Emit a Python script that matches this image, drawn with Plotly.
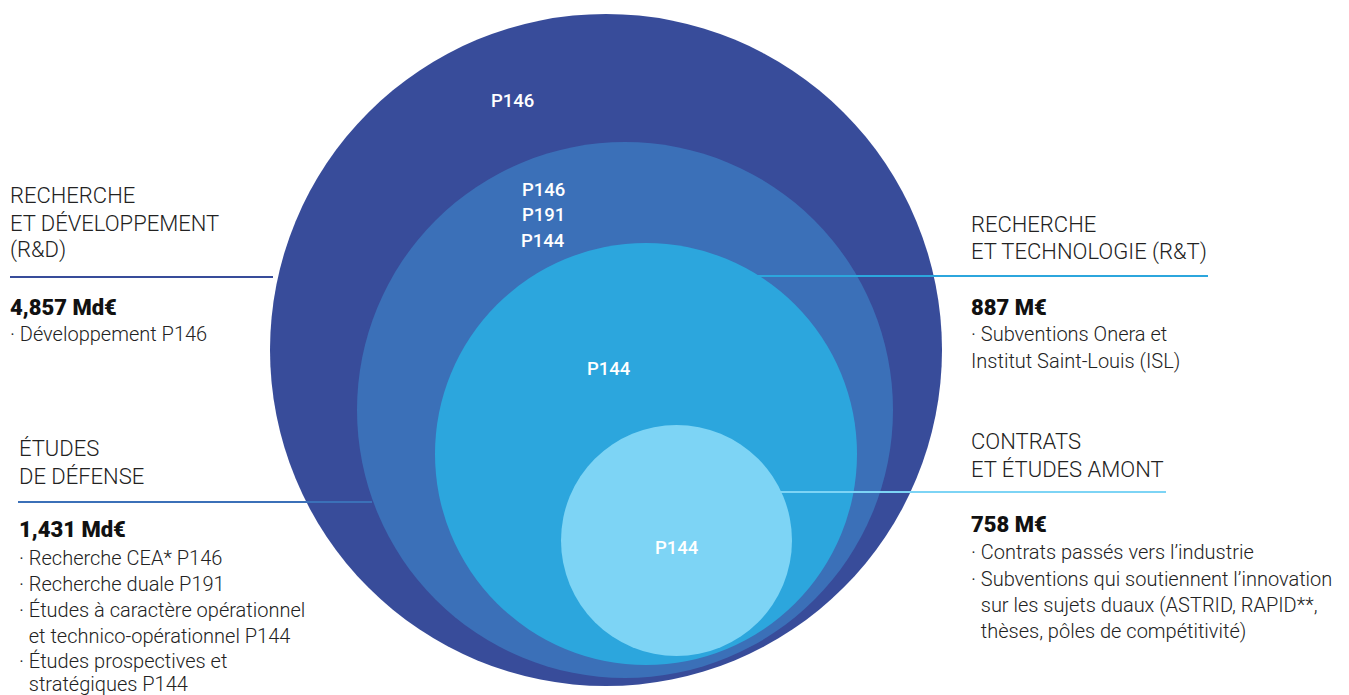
import plotly.graph_objects as go

W, H = 1349, 695
OFF = 8  # page body margin offset

# ---- data ----
circle_labels = [["P146"], ["P146", "P191", "P144"], ["P144"], ["P144"]]
circle_colors = ["#384C9A", "#3B70B8", "#2CA6DD", "#7DD4F5"]

block_titles = [
    ["RECHERCHE", "ET DÉVELOPPEMENT", "(R&D)"],
    ["ÉTUDES", "DE DÉFENSE"],
    ["RECHERCHE", "ET TECHNOLOGIE (R&T)"],
    ["CONTRATS", "ET ÉTUDES AMONT"],
]
block_amounts = ["4,857 Md€", "1,431 Md€", "887 M€", "758 M€"]
block_items = [
    ["· Développement P146"],
    ["· Recherche CEA* P146", "· Recherche duale P191",
     "· Études à caractère opérationnel", "  et technico-opérationnel P144",
     "· Études prospectives et", "  stratégiques P144"],
    ["· Subventions Onera et", "Institut Saint-Louis (ISL)"],
    ["· Contrats passés vers l’industrie",
     "· Subventions qui soutiennent l’innovation",
     "  sur les sujets duaux (ASTRID, RAPID**,",
     "  thèses, pôles de compétitivité)"],
]

# ---- layout geometry (pixels) ----
circles = [  # cx, cy, r
    (606, 350, 336),
    (625, 410, 268),
    (646, 454, 211),
    (676.5, 540.5, 115.5),
]
label_pos = [(512, [101]), (543, [190, 215, 241]), (609, [369]), (677, [548])]

blocks = [
    dict(x=8, title_y=[194, 222, 249], line=(10, 273, 277, "#384C9A"),
         amt_y=306, item_y=[333]),
    dict(x=17, title_y=[447, 475], line=(18, 372, 502, "#3B70B8"),
         amt_y=528, item_y=[557, 583, 609, 635, 660, 683]),
    dict(x=969, title_y=[223, 251], line=(753, 1208, 276, "#2CA6DD"),
         amt_y=306, item_y=[333, 360]),
    dict(x=969, title_y=[440, 468], line=(780, 1166, 492, "#7DD4F5"),
         amt_y=523, item_y=[551, 578, 604, 630]),
]

fig = go.Figure()
fig.add_trace(go.Scatter(x=[OFF, W], y=[OFF, H], mode="markers",
                         marker=dict(opacity=0), hoverinfo="skip", showlegend=False))

shapes = []
for (cx, cy, r), col in zip(circles, circle_colors):
    shapes.append(dict(type="circle", xref="x", yref="y",
                       x0=cx - r, x1=cx + r, y0=cy - r, y1=cy + r,
                       fillcolor=col, line=dict(width=0), layer="below"))
for b in blocks:
    x0, x1, y, col = b["line"]
    shapes.append(dict(type="line", xref="x", yref="y", x0=x0, x1=x1, y0=y, y1=y,
                       line=dict(color=col, width=2), layer="above"))

ann = []
FONT = "Roboto"
for labels, (lx, ys) in zip(circle_labels, label_pos):
    for t, y in zip(labels, ys):
        ann.append(dict(x=lx, y=y, xref="x", yref="y", text=t, showarrow=False,
                        xanchor="center", yanchor="middle",
                        font=dict(family=FONT, size=18.5, color="white", weight=500)))

for b, titles, amt, items in zip(blocks, block_titles, block_amounts, block_items):
    for t, y in zip(titles, b["title_y"]):
        ann.append(dict(x=b["x"], y=y + 1, xref="x", yref="y", text=t, showarrow=False,
                        xanchor="left", yanchor="middle",
                        font=dict(family=FONT, size=22, color="#222222", weight=300)))
    ann.append(dict(x=b["x"], y=b["amt_y"] + 1, xref="x", yref="y", text=amt, showarrow=False,
                    xanchor="left", yanchor="middle",
                    font=dict(family=FONT, size=22, color="#111111", weight=900)))
    for t, y in zip(items, b["item_y"]):
        ann.append(dict(x=b["x"], y=y + 1, xref="x", yref="y", text=t.replace("  ", "&nbsp;&nbsp;"),
                        showarrow=False, xanchor="left", yanchor="middle",
                        font=dict(family=FONT, size=20, color="#222222", weight=300)))

fig.update_layout(
    width=W, height=H, margin=dict(l=0, r=0, t=0, b=0),
    paper_bgcolor="white", plot_bgcolor="white",
    xaxis=dict(range=[OFF, W + OFF], visible=False, fixedrange=True),
    yaxis=dict(range=[H + OFF, OFF], visible=False, fixedrange=True),
    shapes=shapes, annotations=ann, showlegend=False,
)
fig.write_html("out.html")
